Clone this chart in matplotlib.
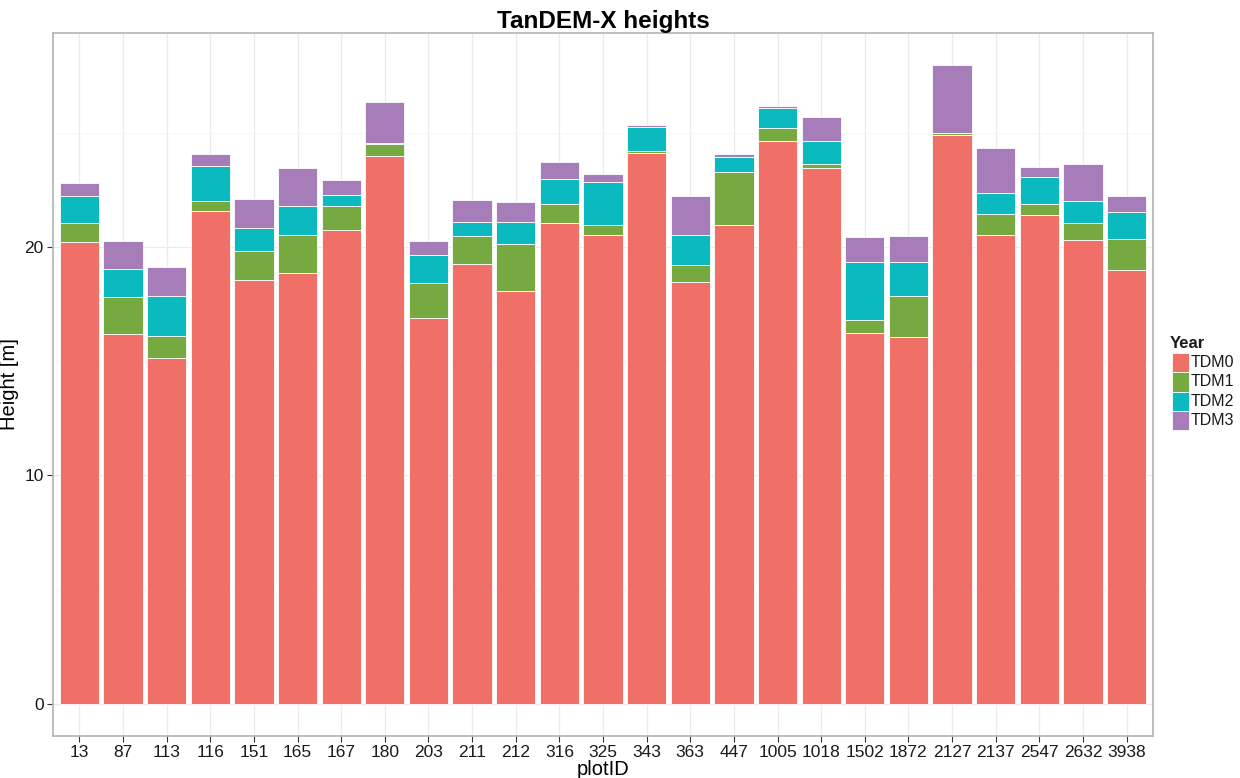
import matplotlib
matplotlib.use("Agg")
import matplotlib.pyplot as plt
from matplotlib.patches import Rectangle
import numpy as np

plt.rcParams['font.family'] = ['Liberation Sans', 'DejaVu Sans']

plot_ids = ["13", "87", "113", "116", "151", "165", "167", "180", "203", "211",
            "212", "316", "325", "343", "363", "447", "1005", "1018", "1502", "1872",
            "2127", "2137", "2547", "2632", "3938"]
tdm0 = [20.23, 16.21, 15.14, 21.58, 18.56, 18.85, 20.77, 24.01, 16.91, 19.27,
        18.09, 21.05, 20.51, 24.11, 18.47, 20.98, 24.65, 23.47, 16.22, 16.06,
        24.90, 20.53, 21.41, 20.31, 19.01]
tdm1 = [0.82, 1.60, 0.98, 0.42, 1.28, 1.67, 1.02, 0.51, 1.50, 1.23,
        2.06, 0.83, 0.47, 0.09, 0.74, 2.32, 0.57, 0.18, 0.60, 1.78,
        0.10, 0.91, 0.47, 0.75, 1.33]
tdm2 = [1.20, 1.24, 1.76, 1.56, 0.99, 1.27, 0.49, 0.02, 1.24, 0.61,
        0.96, 1.10, 1.89, 1.05, 1.33, 0.64, 0.89, 0.99, 2.52, 1.50,
        0.01, 0.91, 1.18, 0.94, 1.21]
tdm3 = [0.54, 1.20, 1.26, 0.50, 1.26, 1.69, 0.65, 1.83, 0.64, 0.96,
        0.87, 0.76, 0.35, 0.09, 1.71, 0.14, 0.06, 1.08, 1.10, 1.16,
        2.97, 2.00, 0.46, 1.62, 0.70]
series_names = ["TDM0", "TDM1", "TDM2", "TDM3"]
colors = ["#F07067", "#76AA40", "#0BBABF", "#A67DB8"]

W, H = 1240, 778
fig = plt.figure(figsize=(W / 100, H / 100), dpi=100)
ax = fig.add_axes([53.3 / W, 1 - 735.7 / H, (1152.7 - 53.3) / W, (735.7 - 33) / H])

x = np.arange(1, len(plot_ids) + 1)
bottom = np.zeros(len(plot_ids))
for vals, col in zip([tdm0, tdm1, tdm2, tdm3], colors):
    v = np.array(vals)
    ax.bar(x, v, width=0.9, bottom=bottom, color=col, edgecolor="white",
           linewidth=0.6, zorder=3)
    bottom += v

total_max = bottom.max()
ax.set_xlim(0.4, len(plot_ids) + 0.6)
ax.set_ylim(-0.05 * total_max, total_max * 1.05)

ax.set_yticks([0, 10, 20])
ax.set_yticks([5, 15, 25], minor=True)
ax.set_xticks(x)
ax.set_xticklabels(plot_ids)
ax.tick_params(axis='both', which='major', labelsize=12.5, length=4, width=0.8,
               color="#333333", labelcolor="#1a1a1a", pad=3)
ax.tick_params(axis='y', which='minor', length=0)
ax.grid(True, which='major', color="#EBEBEB", linewidth=0.9, zorder=0)
ax.grid(True, which='minor', axis='y', color="#F5F5F5", linewidth=0.6, zorder=0)
ax.set_axisbelow(True)
for s in ax.spines.values():
    s.set_color("#B3B3B3")
    s.set_linewidth(1.2)

ax.set_xlabel("plotID", fontsize=14.5, labelpad=0)
ax.set_ylabel("Height [m]", fontsize=14.5)
ax.yaxis.set_label_coords(-(53.3 - 19) / (1152.7 - 53.3), 0.5)
ax.set_title("TanDEM-X heights", fontsize=17.5, fontweight="bold", pad=3)

# legend drawn manually in pixel positions
def fx(px):
    return px / W

def fy(py):
    return 1 - py / H

fig.text(fx(1170), fy(344), "Year", fontsize=12, fontweight="bold",
         ha="left", va="center", color="#1a1a1a")
row_h = 19.3
top0 = 353.0
for i, (name, col) in enumerate(zip(series_names, colors)):
    y0 = top0 + i * row_h
    fig.add_artist(Rectangle((fx(1172), fy(y0 + row_h)), 17 / W, row_h / H,
                             transform=fig.transFigure, facecolor=col,
                             edgecolor="white", linewidth=0.6))
    fig.text(fx(1191), fy(y0 + row_h / 2), name, fontsize=11.5,
             ha="left", va="center", color="#1a1a1a")

fig.savefig("out.png", dpi=100)
